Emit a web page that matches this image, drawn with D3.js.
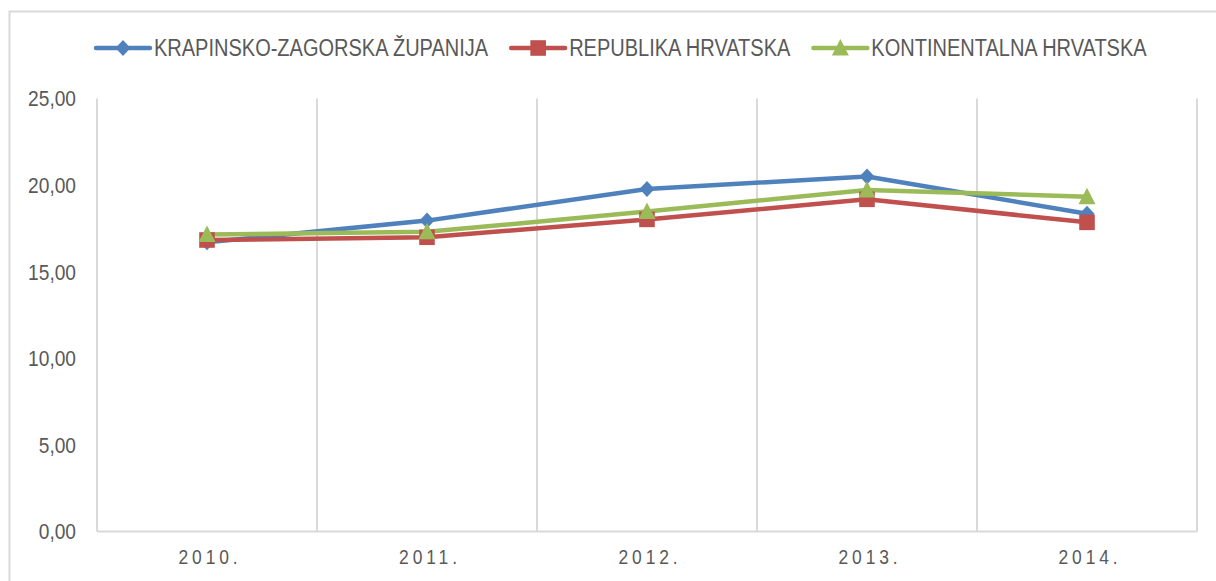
<!DOCTYPE html>
<html>
<head>
<meta charset="utf-8">
<script src="https://cdn.jsdelivr.net/npm/d3@7"></script>
<style>
    body { margin: 0; background: #fff; }
    text { font-family: "Liberation Sans", Arial, sans-serif; fill: #595959; }
</style>
</head>
<body>
<div id="chart"></div>
<script>
var years = ['2010.', '2011.', '2012.', '2013.', '2014.'];
var yTicks = [0, 5, 10, 15, 20, 25];

var seriesNames = ['KRAPINSKO-ZAGORSKA ŽUPANIJA', 'REPUBLIKA HRVATSKA', 'KONTINENTALNA HRVATSKA'];
var krapinsko = [16.70, 17.95, 19.78, 20.50, 18.35];
var republika = [16.83, 16.99, 18.02, 19.18, 17.85];
var kontinentalna = [17.15, 17.30, 18.47, 19.72, 19.33];

var colors = ['#4F81BD', '#C0504D', '#9BBB59'];

// narrow-looking text: the condensed face isn't installed, so squeeze horizontally
var squeeze = 0.87;

// marker shapes, drawn around 0,0
var diamond = { draw: function (c) { c.moveTo(0, -8); c.lineTo(7.5, 0); c.lineTo(0, 8); c.lineTo(-7.5, 0); c.closePath(); } };
var square = { draw: function (c) { c.rect(-7.8, -7.8, 15.6, 15.6); } };
var triangle = { draw: function (c) { c.moveTo(0, -9); c.lineTo(8.5, 7.5); c.lineTo(-8.5, 7.5); c.closePath(); } };
var shapes = [diamond, square, triangle];

var W = 1216, H = 581;
var margin = { top: 98.5, left: 97, bottom: 49.5, right: 19 },
    width = W - margin.left - margin.right,
    height = H - margin.top - margin.bottom;

var svgRoot = d3.select('#chart').append('svg')
    .attr('width', W)
    .attr('height', H);

// outer chart border
svgRoot.append('rect')
    .attr('x', 9.5)
    .attr('y', 11.5)
    .attr('width', W + 20)
    .attr('height', H + 20)
    .attr('fill', 'none')
    .attr('stroke', '#D9D9D9')
    .attr('stroke-width', 2);

var svg = svgRoot.append('g')
    .attr('transform', 'translate(' + margin.left + ', ' + margin.top + ')');

var x = d3.scaleBand().domain(years).range([0, width]).padding(0);
var y = d3.scaleLinear().domain([0, 25]).range([height, 0]);

// vertical gridlines at category boundaries
var bounds = years.map(d => x(d)).concat([width]);
svg.selectAll('.vgrid')
    .data(bounds)
    .enter()
    .append('line')
    .attr('class', 'vgrid')
    .attr('x1', d => d)
    .attr('x2', d => d)
    .attr('y1', 0)
    .attr('y2', height)
    .attr('stroke', '#D9D9D9')
    .attr('stroke-width', 2);

// x axis line
svg.append('line')
    .attr('x1', 0)
    .attr('x2', width)
    .attr('y1', height)
    .attr('y2', height)
    .attr('stroke', '#D9D9D9')
    .attr('stroke-width', 2);

// y axis labels
var fmt = d => d3.format('.2f')(d).replace('.', ',');
svg.selectAll('.ylabel')
    .data(yTicks)
    .enter()
    .append('text')
    .attr('class', 'ylabel')
    .attr('text-anchor', 'end')
    .attr('dy', '0.36em')
    .attr('transform', d => 'translate(-21,' + y(d) + ') scale(' + squeeze + ',1)')
    .style('font-size', '22px')
    .text(fmt);

// x axis labels
svg.selectAll('.xlabel')
    .data(years)
    .enter()
    .append('text')
    .attr('class', 'xlabel')
    .attr('text-anchor', 'middle')
    .attr('transform', d => 'translate(' + (x(d) + x.bandwidth() / 2 + 3) + ',' + (height + 32) + ') scale(' + squeeze + ',1)')
    .style('font-size', '20px')
    .style('letter-spacing', '4.5px')
    .text(d => d);

// series
var series = [krapinsko, republika, kontinentalna];
var line = d3.line()
    .x((d, i) => x(years[i]) + x.bandwidth() / 2)
    .y(d => y(d));

series.forEach(function (vals, s) {
    svg.append('path')
        .datum(vals)
        .attr('fill', 'none')
        .attr('stroke', colors[s])
        .attr('stroke-width', 4.5)
        .attr('stroke-linejoin', 'round')
        .attr('stroke-linecap', 'round')
        .attr('d', line);
});

series.forEach(function (vals, s) {
    svg.selectAll('.m' + s)
        .data(vals)
        .enter()
        .append('path')
        .attr('class', 'm' + s)
        .attr('fill', colors[s])
        .attr('d', d3.symbol().type(shapes[s]))
        .attr('transform', (d, i) => 'translate(' + (x(years[i]) + x.bandwidth() / 2) + ',' + y(d) + ')');
});

// legend
var lx = 96, ly = 48;
seriesNames.forEach(function (name, s) {
    var g = svgRoot.append('g').attr('transform', 'translate(' + lx + ',' + ly + ')');
    g.append('line')
        .attr('x1', 0).attr('x2', 54)
        .attr('y1', 0).attr('y2', 0)
        .attr('stroke', colors[s])
        .attr('stroke-width', 4.5)
        .attr('stroke-linecap', 'round');
    g.append('path')
        .attr('fill', colors[s])
        .attr('d', d3.symbol().type(shapes[s]))
        .attr('transform', 'translate(27,0)');
    var t = g.append('text')
        .attr('dy', '0.36em')
        .attr('transform', 'translate(58,0) scale(' + squeeze + ',1)')
        .style('font-size', '23px')
        .text(name);
    lx += 58 + t.node().getComputedTextLength() * squeeze + 23;
});
</script>
</body>
</html>
